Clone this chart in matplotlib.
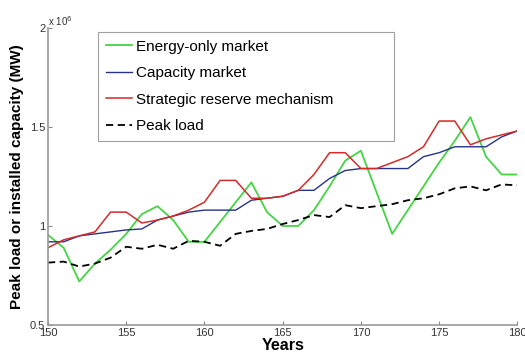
import matplotlib
matplotlib.use("Agg")
import matplotlib.pyplot as plt
import numpy as np

plt.rcParams['font.family'] = ['Liberation Sans', 'DejaVu Sans']

# years and capacities (in 10^6 MW)
years = np.arange(150, 181)
energy_only = [0.955, 0.89, 0.72, 0.81, 0.88, 0.96, 1.06, 1.10, 1.03, 0.92,
               0.92, 1.02, 1.12, 1.22, 1.07, 1.00, 1.00, 1.08, 1.20, 1.33,
               1.38, 1.17, 0.96, 1.08, 1.20, 1.32, 1.43, 1.55, 1.35, 1.26,
               1.26]
capacity = [0.92, 0.92, 0.95, 0.96, 0.97, 0.98, 0.985, 1.03, 1.05, 1.07,
            1.08, 1.08, 1.08, 1.13, 1.14, 1.15, 1.18, 1.18, 1.24, 1.28,
            1.29, 1.29, 1.29, 1.29, 1.35, 1.37, 1.40, 1.40, 1.40, 1.45,
            1.48]
strategic = [0.89, 0.93, 0.95, 0.97, 1.07, 1.07, 1.015, 1.03, 1.05, 1.08,
             1.12, 1.23, 1.23, 1.14, 1.14, 1.15, 1.18, 1.26, 1.37, 1.37,
             1.29, 1.29, 1.32, 1.35, 1.40, 1.53, 1.53, 1.41, 1.44, 1.46,
             1.48]
peak_load = [0.815, 0.82, 0.795, 0.81, 0.84, 0.895, 0.885, 0.905, 0.885, 0.925,
             0.92, 0.90, 0.96, 0.975, 0.985, 1.01, 1.03, 1.055, 1.045, 1.105,
             1.09, 1.10, 1.11, 1.13, 1.14, 1.16, 1.19, 1.20, 1.18, 1.21,
             1.205]

xticks = [150, 155, 160, 165, 170, 175, 180]
yticks = [0.5, 1, 1.5, 2]
ytick_labels = ["0.5", "1", "1.5", "2"]

fig = plt.figure(figsize=(5.25, 3.54), dpi=100, facecolor="w")
ax = fig.add_axes([0.0914, 0.082, 0.894, 0.839])

ax.plot(years, energy_only, color="#44d444", lw=1.3, label="Energy-only market")
ax.plot(years, capacity, color="#26338a", lw=1.0, label="Capacity market")
ax.plot(years, strategic, color="#d42a2a", lw=1.1, label="Strategic reserve mechanism")
ax.plot(years, peak_load, color="black", lw=1.3, ls=(0, (4, 2.5)), label="Peak load")

ax.set_xlim(150, 180)
ax.set_ylim(0.5, 2)
ax.set_xticks(xticks)
ax.set_yticks(yticks)
ax.set_yticklabels(ytick_labels)
ax.tick_params(direction="in", length=3, labelsize=8, colors="#888888",
               labelcolor="#333333", pad=2)

for s in ["top", "right"]:
    ax.spines[s].set_visible(False)
for s in ["left", "bottom"]:
    ax.spines[s].set_color("#999999")
    ax.spines[s].set_linewidth(1.2)

ax.text(0.0, 1.0, r"x 10$^6$", transform=ax.transAxes, fontsize=7,
        color="#333333", va="bottom", ha="left")

ax.set_xlabel("Years", fontsize=11.5, fontweight="bold", labelpad=0)
ax.set_ylabel("Peak load or installed capacity (MW)", fontsize=11,
              fontweight="bold", labelpad=4)

leg = ax.legend(loc="upper left", bbox_to_anchor=(0.1066, 0.0, 0.631, 0.9865),
                mode="expand", fontsize=11, frameon=True, fancybox=False,
                handlelength=1.75, handletextpad=0.25, borderpad=0.5,
                labelspacing=0.82, borderaxespad=0)
leg.get_frame().set_edgecolor("#888888")
leg.get_frame().set_linewidth(0.8)

fig.savefig("out.png", dpi=100)
